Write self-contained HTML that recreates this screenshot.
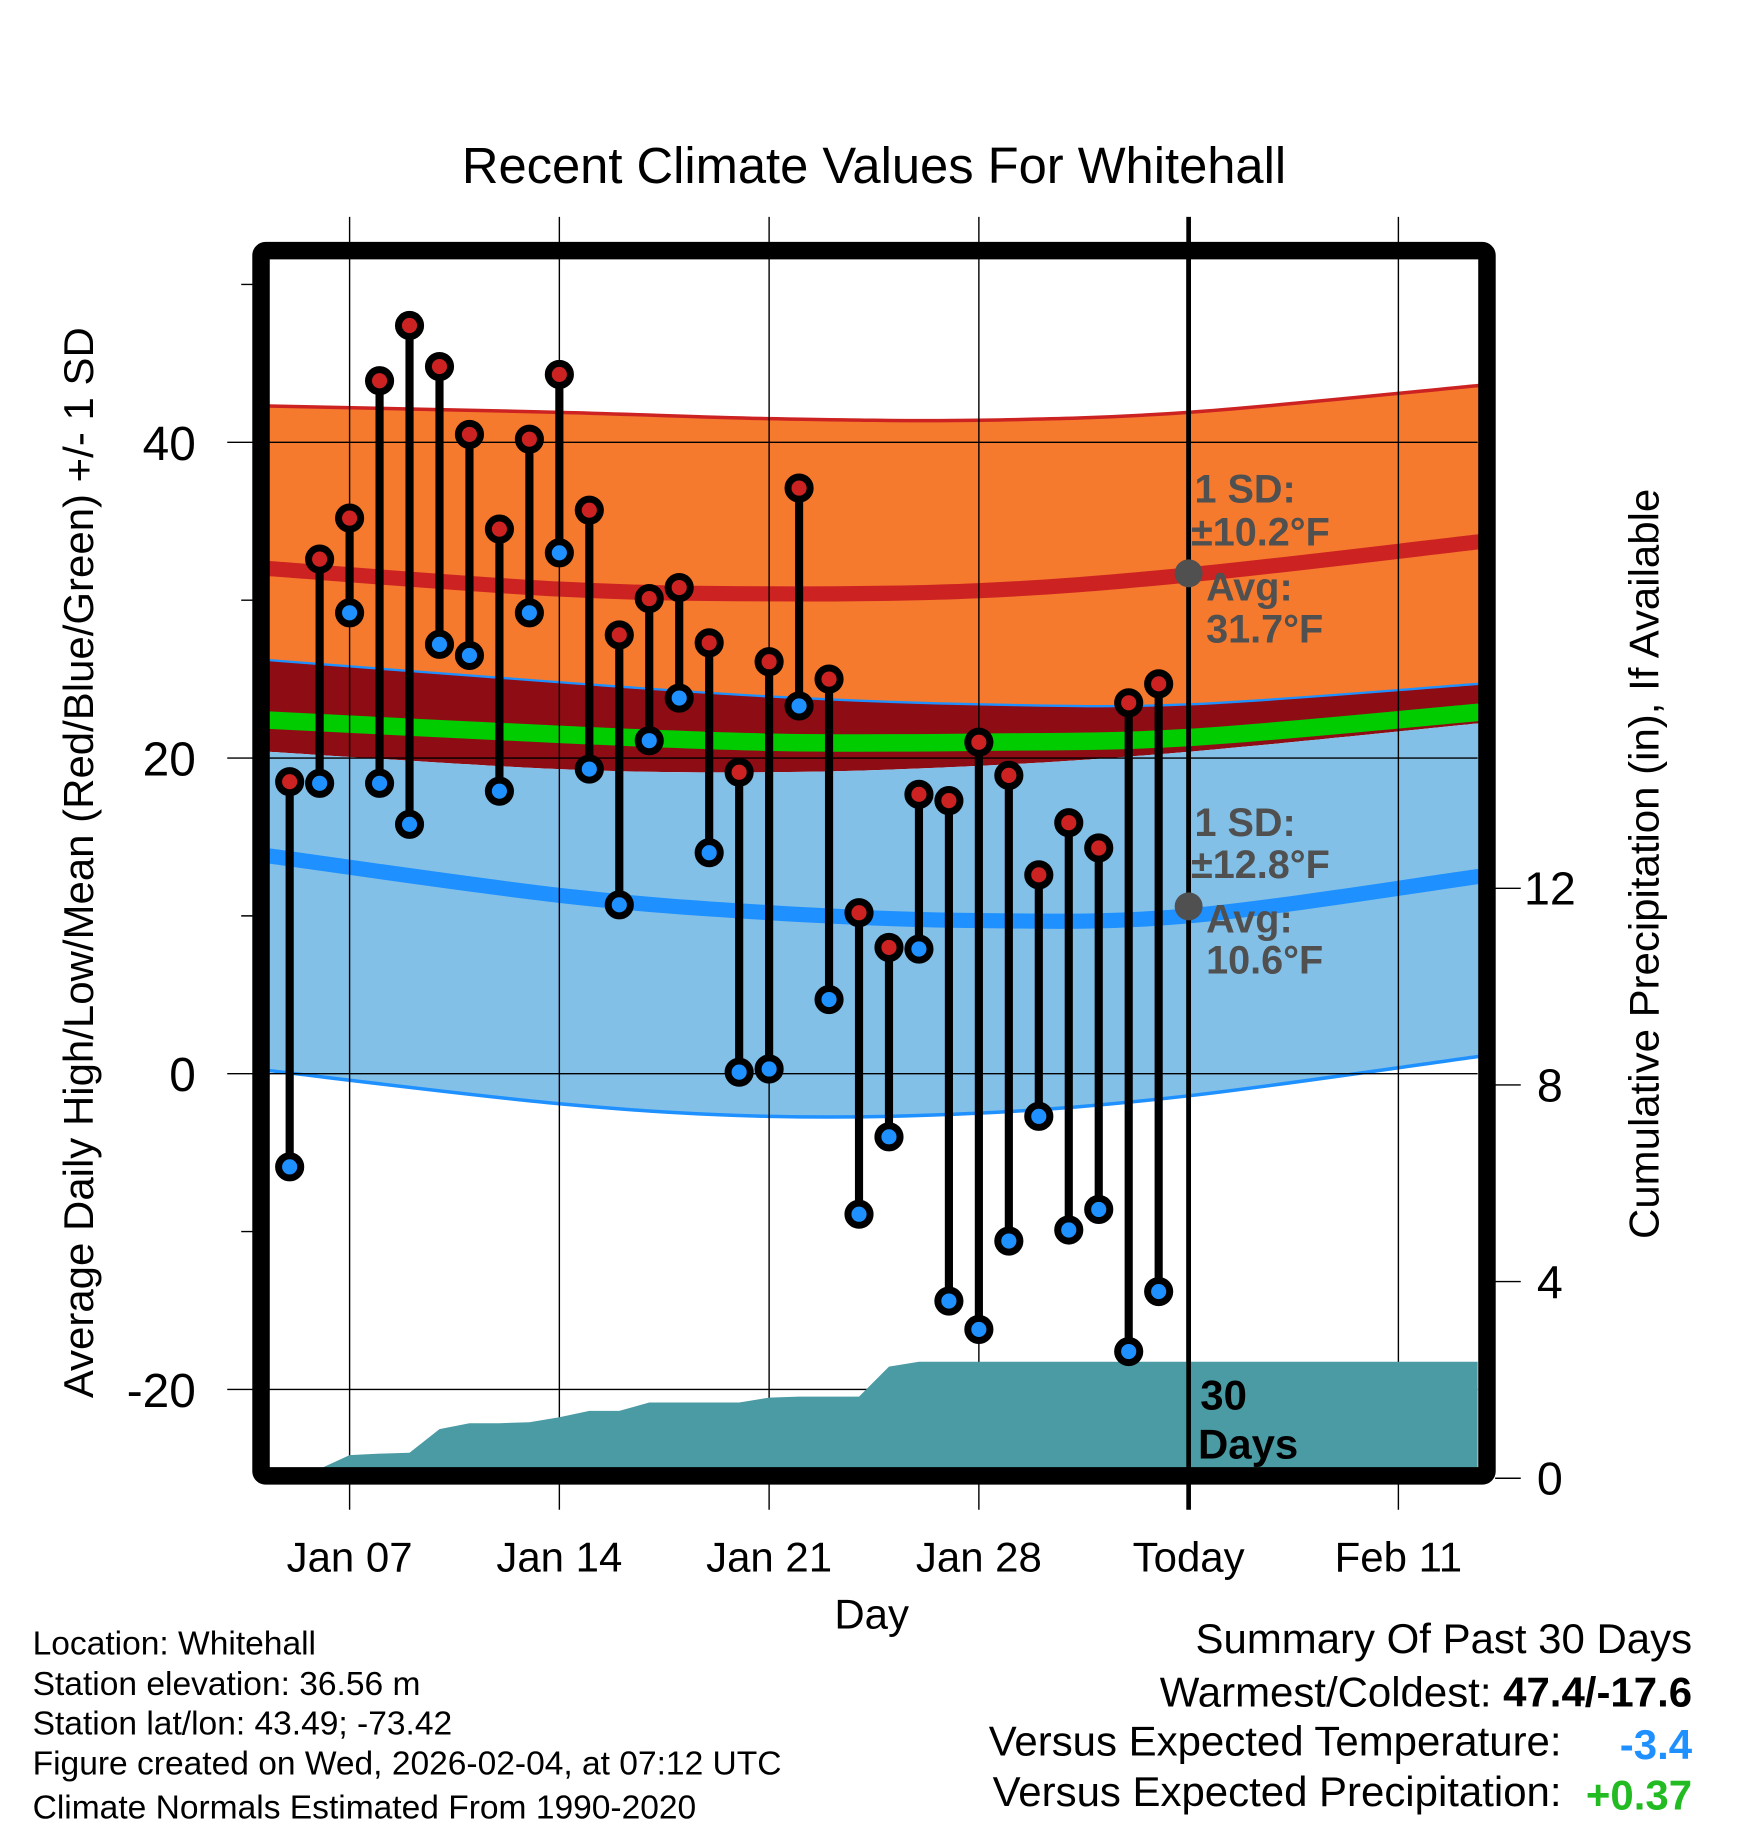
<!DOCTYPE html>
<html><head><meta charset="utf-8"><style>
html,body{margin:0;padding:0;background:#fff}
svg{display:block}
text{font-family:"Liberation Sans",sans-serif}
</style></head><body>
<svg id="chart" width="1748" height="1828" viewBox="0 0 1500 1568" preserveAspectRatio="none" xmlns="http://www.w3.org/2000/svg">
<g id="bands"></g>
<g id="grid"></g>
<g id="precip"></g>
<g id="marks"></g>
<g id="frame"></g>
<g id="labels"></g>
</svg>
<script>
// Days are offsets from Jan 07 (Today = 28)
const dayLabels = ["Jan 5","Jan 6","Jan 7","Jan 8","Jan 9","Jan 10","Jan 11","Jan 12","Jan 13","Jan 14","Jan 15","Jan 16","Jan 17","Jan 18","Jan 19","Jan 20","Jan 21","Jan 22","Jan 23","Jan 24","Jan 25","Jan 26","Jan 27","Jan 28","Jan 29","Jan 30","Jan 31","Feb 1","Feb 2","Feb 3"];
const dayOffsets = [-2,-1,0,1,2,3,4,5,6,7,8,9,10,11,12,13,14,15,16,17,18,19,20,21,22,23,24,25,26,27];
const highs = [18.5,32.6,35.2,43.9,47.4,44.8,40.5,34.5,40.2,44.3,35.7,27.8,30.1,30.8,27.3,19.1,26.1,37.1,25.0,10.2,8.0,17.7,17.3,21.0,18.9,12.6,15.9,14.3,23.5,24.7];
const lows = [-5.9,18.4,29.2,18.4,15.8,27.2,26.5,17.9,29.2,33.0,19.3,10.7,21.1,23.8,14.0,0.1,0.3,23.3,4.7,-8.9,-4.0,7.9,-14.4,-16.2,-10.6,-2.7,-9.9,-8.6,-17.6,-13.8];
const precip = [0,0,0.47,0.5,0.52,1.0,1.12,1.12,1.14,1.24,1.37,1.37,1.54,1.54,1.54,1.54,1.64,1.66,1.66,1.66,2.27,2.37,2.37,2.37,2.37,2.37,2.37,2.37,2.37,2.37];
const normDays = [-2.7,7,14,21,28,37.7];
const highMean = [32.0,30.7,30.4,30.6,31.6,33.7];
const highUpper = [42.3,41.9,41.5,41.4,41.9,43.6];
const highLower = [26.2,24.8,23.9,23.4,23.4,24.7];
const avgMean = [22.4,21.5,21.0,21.0,21.3,22.9];
const lowUpper = [20.4,19.3,19.1,19.5,20.4,22.2];
const lowMean = [13.8,11.3,10.2,9.7,10.0,12.5];
const lowLower = [0.2,-1.9,-2.7,-2.5,-1.4,1.1];
const xTickDays = [0,7,14,21,28,35];
const xTickLabels = ["Jan 07","Jan 14","Jan 21","Jan 28","Today","Feb 11"];
const yTicks = [40,20,0,-20];
const yMinor = [50,30,10,-10];
const pTicks = [0,4,8,12];

const PL=231,PR=1268,PT=222,PB=1260;
const X = d => 300 + d*25.714;
const Y = v => 921 - v*13.54;
const YP = p => 1268 - p*42.17;
const NS="http://www.w3.org/2000/svg";
function mk(parent,tag,attrs){const e=document.createElementNS(NS,tag);for(const k in attrs)e.setAttribute(k,attrs[k]);document.getElementById(parent).appendChild(e);return e;}
function pts(ds,vs){return ds.map((d,i)=>[X(d),Y(vs[i])]);}
function smooth(p){let s="M"+p[0][0]+","+p[0][1];for(let i=0;i<p.length-1;i++){const p0=p[Math.max(i-1,0)],p1=p[i],p2=p[i+1],p3=p[Math.min(i+2,p.length-1)];
const c1=[p1[0]+(p2[0]-p0[0])/6,p1[1]+(p2[1]-p0[1])/6],c2=[p2[0]-(p3[0]-p1[0])/6,p2[1]-(p3[1]-p1[1])/6];s+=" C"+c1+" "+c2+" "+p2;}return s;}
function band(up,lo){const a=pts(normDays,up),b=pts(normDays,lo).reverse();return smooth(a)+" L"+b[0]+smooth(b).replace(/^M[^ C]+/,"")+" Z";}

let e;
e=mk("bands","path",{d:band(highUpper,highLower),fill:"#F57A2E"});

e=mk("bands","path",{d:band(highLower,lowUpper),fill:"#8E0C14"});

e=mk("bands","path",{d:band(lowUpper,lowLower),fill:"#82C0E8"});

e=mk("bands","path",{d:smooth(pts(normDays,highUpper)),fill:"none",stroke:"#CC2222","stroke-width":3});

e=mk("bands","path",{d:smooth(pts(normDays,highLower)),fill:"none",stroke:"#1E90FF","stroke-width":2});

e=mk("bands","path",{d:smooth(pts(normDays,lowLower)),fill:"none",stroke:"#1E90FF","stroke-width":3});

e=mk("bands","path",{d:smooth(pts(normDays,avgMean)),fill:"none",stroke:"#00CC00","stroke-width":15});

e=mk("bands","path",{d:smooth(pts(normDays,highMean)),fill:"none",stroke:"#CC2222","stroke-width":13});

e=mk("bands","path",{d:smooth(pts(normDays,lowMean)),fill:"none",stroke:"#1E90FF","stroke-width":13});


// grid
xTickDays.forEach((d,i)=>{
  e=mk("grid","line",{x1:X(d),x2:X(d),y1:186,y2:1295,stroke:"#000","stroke-width":i==4?4:1.2});
  
  e=mk("labels","text",{x:X(d),y:1348,"font-size":36,"text-anchor":"middle"});e.textContent=xTickLabels[i];
  
});
yTicks.forEach(v=>{
  e=mk("grid","line",{x1:195,x2:PR,y1:Y(v),y2:Y(v),stroke:"#000","stroke-width":1.2});
  
  e=mk("labels","text",{x:168,y:Y(v)+15,"font-size":41,"text-anchor":"end"});e.textContent=v;
  
});
yMinor.forEach(v=>{e=mk("grid","line",{x1:207,x2:PL,y1:Y(v),y2:Y(v),stroke:"#000","stroke-width":1.2});
  });
pTicks.forEach(p=>{
  e=mk("grid","line",{x1:1283,x2:1305,y1:YP(p),y2:YP(p),stroke:"#000","stroke-width":1.2});
  
  e=mk("labels","text",{x:1330,y:YP(p)+14,"font-size":40,"text-anchor":"middle"});e.textContent=p;
  
});

// precip area
let pd="M"+PL+","+PB;
precip.forEach((p,i)=>{pd+=" L"+X(dayOffsets[i])+","+Math.min(PB,YP(p));});
pd+=" L"+PR+","+YP(precip[precip.length-1])+" L"+PR+","+PB+" Z";
e=mk("precip","path",{d:pd,fill:"#4A9BA3"});

e=mk("precip","line",{x1:X(28),x2:X(28),y1:PT,y2:PB,stroke:"#000","stroke-width":4});


// temperature marks
dayOffsets.forEach((d,i)=>{
  const x=X(d);
  e=mk("marks","line",{x1:x,x2:x,y1:Y(highs[i]),y2:Y(lows[i]),stroke:"#000","stroke-width":7});
  
  e=mk("marks","circle",{cx:x,cy:Y(lows[i]),r:9.5,fill:"#1E90FF",stroke:"#000","stroke-width":6});
  
  e=mk("marks","circle",{cx:x,cy:Y(highs[i]),r:9.5,fill:"#CC2222",stroke:"#000","stroke-width":6});
  
});
e=mk("marks","circle",{cx:X(28),cy:Y(31.7),r:12,fill:"#505050"});

e=mk("marks","circle",{cx:X(28),cy:Y(10.6),r:12,fill:"#505050"});


e=mk("frame","rect",{x:224,y:215,width:1052,height:1051,fill:"none",stroke:"#000","stroke-width":15,rx:4});


function txt(x,y,s,size,opts){e=mk("labels","text",Object.assign({x:x,y:y,"font-size":size},opts||{}));e.textContent=s;return e;}
const G={fill:"#505050","font-weight":"bold"};
[[1025,431,"1 SD:"],[1022,468,"±10.2°F"],[1035,515,"Avg:"],[1035,551,"31.7°F"],[1025,717,"1 SD:"],[1022,753,"±12.8°F"],[1035,800,"Avg:"],[1035,835,"10.6°F"]].forEach(a=>{
  txt(a[0],a[1],a[2],34,G);});
txt(1030,1209,"30",36,{"font-weight":"bold"});
txt(1028,1251,"Days",36,{"font-weight":"bold"});
txt(750,157,"Recent Climate Values For Whitehall",43.5,{"text-anchor":"middle"});
txt(748,1397,"Day",36,{"text-anchor":"middle"});
txt(0,0,"Average Daily High/Low/Mean (Red/Blue/Green) +/- 1 SD",36,{"text-anchor":"middle",transform:"translate(80,740) rotate(-90)"});

txt(0,0,"Cumulative Precipitation (in), If Available",36,{"text-anchor":"middle",transform:"translate(1423,741) rotate(-90)"});

[[1419,"Location: Whitehall"],[1454,"Station elevation: 36.56 m"],[1488,"Station lat/lon: 43.49; -73.42"],[1522,"Figure created on Wed, 2026-02-04, at 07:12 UTC"],[1560,"Climate Normals Estimated From 1990-2020"]].forEach(a=>{
  txt(28,a[0],a[1],28.8);});
txt(1452,1418,"Summary Of Past 30 Days",36,{"text-anchor":"end"});
e=mk("labels","text",{x:1452,y:1464,"font-size":36,"text-anchor":"end"});
e.innerHTML='Warmest/Coldest: <tspan font-weight="bold">47.4/-17.6</tspan>';

txt(1340,1506,"Versus Expected Temperature:",36,{"text-anchor":"end"});
txt(1452,1509,"-3.4",36,{"text-anchor":"end",fill:"#1E90FF","font-weight":"bold"});
txt(1340,1549,"Versus Expected Precipitation:",36,{"text-anchor":"end"});
txt(1452,1552,"+0.37",36,{"text-anchor":"end",fill:"#22BB22","font-weight":"bold"});
</script>
</body></html>
